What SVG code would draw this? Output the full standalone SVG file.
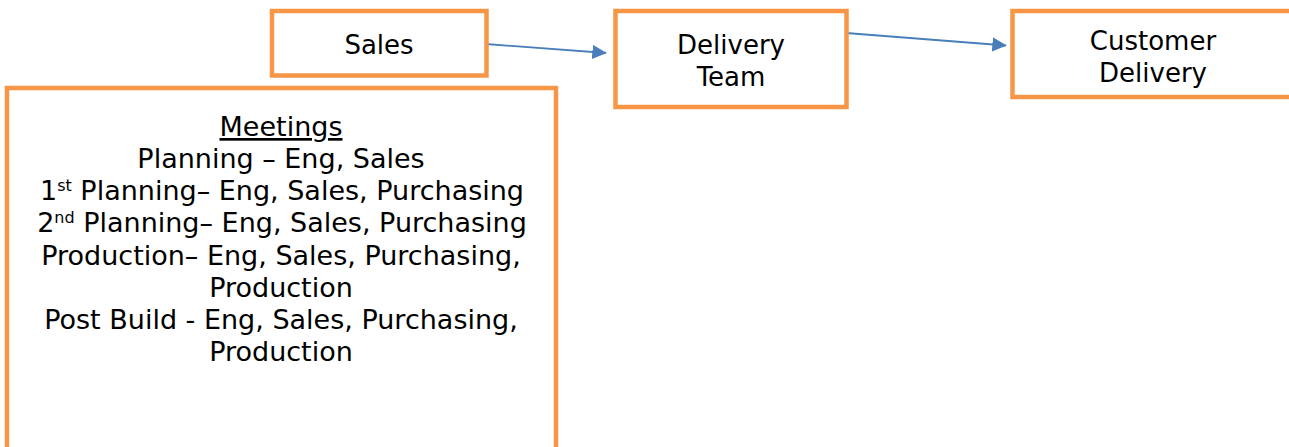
<svg xmlns="http://www.w3.org/2000/svg" width="1289" height="447" viewBox="0 0 1289 447">
  <defs>
    <style>
      .box { fill: #ffffff; stroke: #F79646; stroke-width: 4.5; }
      .lbl { font-family: "DejaVu Sans", Verdana, sans-serif; font-size: 26px; fill: #000000; text-anchor: middle; }
      .big { font-size: 27px; }
      .sup { font-size: 16px; }
      .conn { stroke: #4A7EBB; stroke-width: 1.8; fill: none; marker-end: url(#arrow); }
    </style>
    <marker id="arrow" viewBox="0 0 10 10" refX="9.5" refY="5" markerWidth="8" markerHeight="8" markerUnits="strokeWidth" orient="auto">
      <path d="M0,0 L10,5 L0,10 z" fill="#4A7EBB"/>
    </marker>
  </defs>

  <rect width="1289" height="447" fill="#ffffff"/>

  <g id="connectors">
    <line class="conn" x1="486" y1="44" x2="606" y2="53"/>
    <line class="conn" x1="846" y1="33" x2="1006" y2="45.5"/>
  </g>

  <g id="sales">
    <rect class="box" x="272" y="11" width="214.5" height="64.5"/>
    <text class="lbl" x="379" y="54">Sales</text>
  </g>

  <g id="delivery-team">
    <rect class="box" x="615.5" y="11" width="231" height="96"/>
    <text class="lbl" x="731" y="54">Delivery</text>
    <text class="lbl" x="731" y="86">Team</text>
  </g>

  <g id="customer-delivery">
    <rect class="box" x="1012.5" y="11" width="290" height="86"/>
    <text class="lbl" x="1153" y="50">Customer</text>
    <text class="lbl" x="1153" y="82">Delivery</text>
  </g>

  <g id="meetings">
    <rect class="box" x="7" y="88" width="549" height="380"/>
    <text class="lbl big" x="281" y="136" text-decoration="underline">Meetings</text>
    <text class="lbl big" x="281" y="168">Planning – Eng, Sales</text>
    <text class="lbl big" x="282" y="200">1<tspan class="sup" dy="-9">st</tspan><tspan dy="9"> Planning– Eng, Sales, Purchasing</tspan></text>
    <text class="lbl big" x="282" y="232">2<tspan class="sup" dy="-9">nd</tspan><tspan dy="9"> Planning– Eng, Sales, Purchasing</tspan></text>
    <text class="lbl big" x="281" y="265">Production– Eng, Sales, Purchasing,</text>
    <text class="lbl big" x="281" y="297">Production</text>
    <text class="lbl big" x="281" y="329">Post Build - Eng, Sales, Purchasing,</text>
    <text class="lbl big" x="281" y="361">Production</text>
  </g>
</svg>
